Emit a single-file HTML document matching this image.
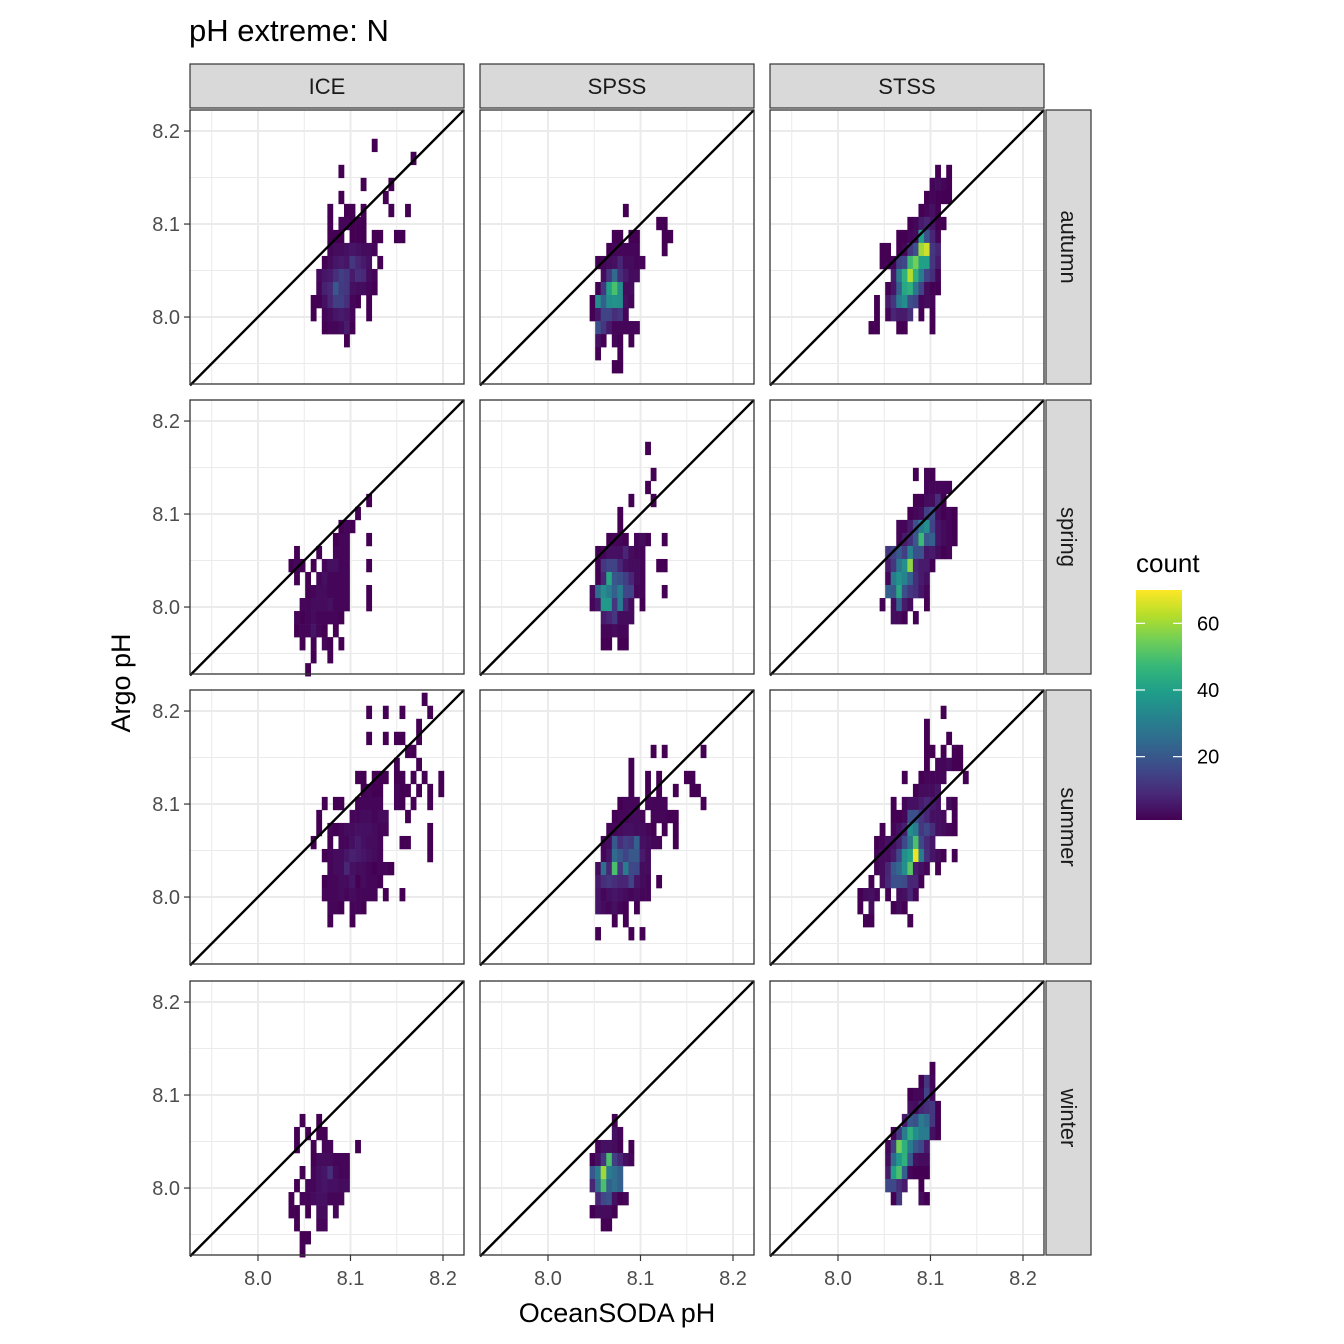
<!DOCTYPE html>
<html><head><meta charset="utf-8"><style>
html,body{margin:0;padding:0;background:#fff;}
svg{display:block;font-family:"Liberation Sans",Arial,sans-serif;}
</style></head><body>
<svg id="chart" width="1344" height="1344" viewBox="0 0 1344 1344" xmlns="http://www.w3.org/2000/svg">
<rect width="1344" height="1344" fill="#fff"/>
<text x="189" y="41" font-size="31" fill="#000">pH extreme: N</text>
<g id="panels"></g>
<text x="617" y="1322" font-size="27" text-anchor="middle" fill="#000">OceanSODA pH</text>
<text transform="translate(130,683) rotate(-90)" font-size="27" text-anchor="middle" fill="#000">Argo pH</text>
<g>
<text x="1136" y="572" font-size="26" fill="#000">count</text>
<defs><linearGradient id="vg" x1="0" y1="1" x2="0" y2="0">
<stop offset="0" stop-color="#440154"/><stop offset="0.111" stop-color="#482878"/><stop offset="0.222" stop-color="#3e4989"/><stop offset="0.333" stop-color="#31688e"/><stop offset="0.444" stop-color="#26828e"/><stop offset="0.556" stop-color="#1f9e89"/><stop offset="0.667" stop-color="#35b779"/><stop offset="0.778" stop-color="#6ece58"/><stop offset="0.889" stop-color="#b5de2b"/><stop offset="1" stop-color="#fde725"/></linearGradient></defs>
<rect x="1136" y="590" width="46" height="230" fill="url(#vg)"/>
<g id="legendticks"></g>
</g>
</svg>
<script>
const cols = ["ICE","SPSS","STSS"];
const rows = ["autumn","spring","summer","winter"];
const xTicks = [8.0, 8.1, 8.2];
const yTicks = [8.0, 8.1, 8.2];
const xTickLabels = ["8.0","8.1","8.2"];
const yTickLabels = ["8.0","8.1","8.2"];
const legendTicks = [20, 40, 60];
const binX0 = 7.931, binW = 0.006, binY0 = 7.9117, binH = 0.014;
const countMin = 1, countMax = 70;
// each row: [yBinIndex, firstXBinIndex, counts...]
const ICE_autumn = [[19,32,1],[18,39,1],[17,26,1],[16,30,1,0,0,0,0,1],[15,26,1,0,0,0,0,0,0,0,1],[14,24,1,0,0,1,1,0,1,0,0,0,0,1,0,0,1],[13,24,1,0,2,2,1,1,1],[12,24,1,1,1,0,1,1,1,0,1,1,0,0,1,1],[11,24,2,3,3,4,5,4,3,3,2],[10,23,1,3,5,6,5,12,8,6,4,0,1],[9,22,3,5,6,10,14,12,6,10,9,3,2],[8,22,2,7,9,20,13,12,4,3,3,2,1],[7,21,1,1,4,8,14,14,10,2,1,0,1],[6,21,1,0,2,3,5,6,5,2,0,0,1],[5,23,1,2,2,3,6,1],[4,27,1]];
const ICE_spring = [[14,31,1],[13,29,1],[12,26,1,2,1],[11,25,1,2,2,0,0,0,1],[10,18,1,0,0,0,1,0,0,2,2,2],[9,17,1,2,1,0,1,0,2,4,4,2,2,0,0,0,1],[8,18,1,0,1,0,2,4,2,2,2,2],[7,20,1,2,3,3,2,2,2,2,0,0,0,1],[6,19,2,2,3,3,3,4,2,2,2,0,0,0,1],[5,18,2,1,2,3,2,2,2,2,1],[4,18,1,2,2,5,2,1,0,1],[3,19,1,0,1,0,2,1,0,1],[2,21,1,0,0,1],[1,20,1]];
const ICE_summer = [[21,41,1],[20,31,1,0,0,1,0,0,1,0,0,0,0,1],[19,40,1],[18,31,1,0,0,1,0,1,1,0,0,1],[17,38,1,1],[16,36,1,0,0,0,1],[15,29,1,1,0,1,1,1,0,1,1,0,1,0,1,0,0,1],[14,30,1,2,1,1,0,0,2,1,1,0,1,0,1,0,1],[13,23,1,0,1,1,0,0,1,2,2,2,2,0,0,2,1,0,1,0,0,1],[12,22,1,0,0,0,0,0,2,2,3,3,2,3,3,0,0,0,1],[11,22,1,0,2,1,2,3,3,4,4,4,3,2,2,0,0,0,0,0,0,0,1],[10,21,1,0,0,1,0,2,2,4,6,4,3,3,2,0,0,0,1,1,0,0,0,1],[9,23,1,2,3,3,5,7,6,5,4,3,2,0,0,0,0,0,0,0,0,1],[8,24,2,3,3,8,4,3,3,2,1,2,2,1],[7,23,1,2,2,3,3,5,1,3,2,2,1],[6,23,2,2,2,3,2,3,2,2,2,2,0,1,0,0,1],[5,24,2,2,1,0,2,2,1],[4,24,1,0,0,0,1]];
const ICE_winter = [[11,19,1,0,0,1],[10,18,1,0,1,0,1,1],[9,18,1,0,0,1,0,2,2,0,0,0,0,1],[8,21,1,3,3,3,2,2,2],[7,19,1,0,2,4,5,10,3,2,2],[6,18,1,0,2,2,4,5,4,4,3,3],[5,17,1,0,2,2,3,4,4,2,2,2],[4,17,1,1,0,1,0,3,3,0,2],[3,18,1,0,0,0,2,2],[2,19,1,1],[1,19,1]];
const SPSS_autumn = [[14,25,1],[13,31,1,1],[12,23,1,1,0,1,1,0,0,0,0,1,1],[11,22,1,2,2,2,2,2,0,0,0,0,1],[10,20,1,2,3,4,8,3,3,2,2],[9,21,3,12,25,10,6,3,3],[8,20,1,12,40,50,35,3,3],[7,19,1,35,22,35,36,35,4,2],[6,19,1,5,15,15,10,12,2],[5,20,18,12,6,2,2,2,2,2],[4,20,4,1,0,2,1,0,1],[3,20,1,0,0,0,1],[2,23,1,1]];
const SPSS_spring = [[18,29,1],[16,30,1],[15,29,1],[14,26,1,0,0,0,1],[13,24,1],[12,24,1],[11,22,1,2,2,1,0,2,3,1,0,0,1],[10,20,1,2,4,4,4,8,3,2,2],[9,20,1,12,15,15,8,4,3,3,2,0,0,1,1],[8,20,1,8,42,20,18,14,8,3,2],[7,19,3,25,35,30,22,30,16,15,2,2,0,0,0,1],[6,19,2,5,38,38,12,30,8,3,0,1],[5,21,6,8,12,3,3,3],[4,21,2,2,3,2,2],[3,21,1,1,0,1,1]];
const SPSS_summer = [[17,30,1,0,1,0,0,0,0,0,0,1],[16,26,1],[15,26,1,0,0,1,0,1,0,0,0,0,1,1],[14,26,1,0,0,1,0,1,0,0,1,0,0,1,1],[13,24,1,2,2,2,0,2,2,2,2,0,0,0,0,0,0,1],[12,23,1,2,2,3,3,2,0,2,2,2,1,1],[11,22,2,2,3,4,4,3,3,2,1,0,1,0,1],[10,21,2,3,20,10,14,12,22,4,3,2,2,0,0,1],[9,21,2,5,25,20,15,20,20,6,3],[8,20,3,26,8,50,12,30,16,16,3,3],[7,20,6,10,12,10,8,8,15,5,3,2,0,1],[6,20,5,2,4,5,4,3,2,3,2,2],[5,20,5,3,2,4,2,1,0,1],[4,23,1,0,1],[3,20,1,0,0,0,0,0,1,0,1]];
const SPSS_winter = [[11,23,1],[10,23,4,2],[9,20,2,4,4,3,1,0,1],[8,19,1,4,12,50,14,8,4,2],[7,19,20,30,60,30,26,22],[6,19,8,25,50,22,26,22],[5,20,8,16,18,4,1,2],[4,19,1,3,3,3,1],[3,21,1,1]];
const STSS_autumn = [[17,29,1,0,1],[16,28,2,3,2,1],[15,27,1,2,1,1,1],[14,26,1,2,4,1],[13,24,1,2,6,8,5,1,1],[12,22,1,1,2,3,40,18,8,2],[11,19,1,1,0,1,2,12,18,60,65,12,8],[10,19,1,1,2,14,16,48,55,40,40,12,6],[9,21,6,30,45,62,45,30,15,10,2],[8,20,1,5,22,42,45,28,15,3,1,1],[7,18,1,0,6,12,30,35,18,15,2,3,2],[6,18,1,0,2,8,6,6,10,0,1,0,1],[5,17,1,1,0,0,0,1,1,0,0,0,0,1]];
const STSS_spring = [[16,25,1,0,2,1],[15,27,2,2,2,2,2],[14,25,1,1,3,3,10,1],[13,24,1,2,3,14,18,3,1,2,1],[12,22,2,2,6,18,30,35,15,5,3,2,1],[11,22,2,6,10,20,48,20,22,5,3,2,1],[10,20,12,15,20,14,32,18,18,5,6,3,1,2],[9,20,6,12,28,35,58,8,6,6,1],[8,20,2,30,36,32,22,10,6,4],[7,20,22,20,42,18,12,10,5,2],[6,19,1,0,3,22,6,3,0,0,1],[5,21,3,3,1,0,1]];
const STSS_summer = [[20,30,1],[19,27,1],[18,27,1,0,0,0,1],[17,27,1,1,0,1,0,1,1],[16,27,1,0,2,2,3,1,1],[15,23,1,0,0,1,2,2,2,2,0,0,0,1],[14,25,1,3,3,3,5],[13,21,1,0,2,4,4,6,8,6,4,0,3,1],[12,21,1,1,2,18,18,12,8,4,4,3,0,1],[11,19,1,0,2,4,7,35,30,12,16,10,4,3,2,1],[10,18,1,2,4,4,7,16,28,50,16,9,5],[9,18,2,3,3,6,16,35,40,68,30,10,5,3,1,0,1],[8,18,2,3,8,20,24,35,52,6,4,2,0,1],[7,17,1,0,3,9,18,18,17,8,8,1],[6,15,1,3,4,2,0,1,0,3,4,8,2],[5,15,1,0,3,0,0,0,1,3,1],[4,16,1,1,0,0,0,0,0,0,1]];
const STSS_winter = [[15,28,1],[14,26,1,12,2],[13,24,1,2,2,15,3],[12,24,4,3,8,10,12,1],[11,23,6,20,18,30,25,12,1],[10,21,2,12,30,45,35,30,30,4,1],[9,20,2,14,55,45,30,20,16,6],[8,20,3,25,38,45,20,4,3,3],[7,20,6,40,50,22,2,1,1,1],[6,20,16,16,10,6,0,0,1],[5,21,1,12,0,0,0,3,1]];

const panelData = {
  ICE: [ICE_autumn, ICE_spring, ICE_summer, ICE_winter],
  SPSS: [SPSS_autumn, SPSS_spring, SPSS_summer, SPSS_winter],
  STSS: [STSS_autumn, STSS_spring, STSS_summer, STSS_winter]
};

const NS = "http://www.w3.org/2000/svg";
const colLeft = [190, 480, 770], panelW = 274;
const rowTop = [110, 400, 690, 981], panelH = 274;
const xMin = 7.9265, xMax = xMin + panelW/925;
const yMin = 7.928, yMax = yMin + panelH/930;
function sx(c, v){ return colLeft[c] + (v - xMin) / (xMax - xMin) * panelW; }
function sy(r, v){ return rowTop[r] + panelH - (v - yMin) / (yMax - yMin) * panelH; }
const vir = ["#440154","#482878","#3e4989","#31688e","#26828e","#1f9e89","#35b779","#6ece58","#b5de2b","#fde725"];
function hex(h){ return [1,3,5].map(k=>parseInt(h.substr(k,2),16)); }
function viridis(v){
  let t = Math.max(0, Math.min(1, (v - countMin) / (countMax - countMin)));
  let p = t * (vir.length - 1), k = Math.min(vir.length - 2, Math.floor(p)), f = p - k;
  const a = hex(vir[k]), b = hex(vir[k+1]);
  return "rgb(" + a.map((x,i)=>Math.round(x + (b[i]-x)*f)).join(",") + ")";
}
function mk(tag, attrs, parent){
  const el = document.createElementNS(NS, tag);
  for (const k in attrs) el.setAttribute(k, attrs[k]);
  parent.appendChild(el);
  return el;
}
const root = document.getElementById("panels");
const minorX = [7.95, 8.05, 8.15], minorY = [7.95, 8.05, 8.15];

cols.forEach((cn, c) => {
  const st = mk("rect", {x: colLeft[c], y: 64, width: panelW, height: 44, fill: "#d9d9d9", stroke: "#333", "stroke-width": 1.2}, root);
  
  
  const stt = mk("text", {x: colLeft[c] + panelW/2, y: 94, "font-size": 22, "text-anchor": "middle", fill: "#1a1a1a"}, root);
  stt.textContent = cn;
  
  
  rows.forEach((rn, r) => {
    const g = mk("g", {}, root);
    
    
    const L = colLeft[c], T = rowTop[r];
    mk("rect", {x: L, y: T, width: panelW, height: panelH, fill: "#fff"}, g);
    minorX.forEach(v => mk("line", {x1: sx(c,v), x2: sx(c,v), y1: T, y2: T+panelH, stroke: "#ebebeb", "stroke-width": 1}, g));
    minorY.forEach(v => mk("line", {x1: L, x2: L+panelW, y1: sy(r,v), y2: sy(r,v), stroke: "#ebebeb", "stroke-width": 1}, g));
    xTicks.forEach(v => mk("line", {x1: sx(c,v), x2: sx(c,v), y1: T, y2: T+panelH, stroke: "#ebebeb", "stroke-width": 2}, g));
    yTicks.forEach(v => mk("line", {x1: L, x2: L+panelW, y1: sy(r,v), y2: sy(r,v), stroke: "#ebebeb", "stroke-width": 2}, g));
    const data = panelData[cn][r];
    data.forEach(row => {
      const J = row[0], i0 = row[1];
      for (let k = 2; k < row.length; k++) {
        const n = row[k];
        if (!n) continue;
        const xv = binX0 + (i0 + k - 2) * binW, yv = binY0 + J * binH;
        const x1 = sx(c, xv), x2 = sx(c, xv + binW);
        const y1 = sy(r, yv + binH), y2 = sy(r, yv);
        const cell = mk("rect", {x: x1, y: y1, width: x2 - x1 + 0.3, height: y2 - y1 + 0.3, fill: viridis(n)}, g);
        
        
      }
    });
    const dl = mk("line", {x1: L, y1: sy(r, xMin), x2: L + panelW, y2: sy(r, xMax), stroke: "#000", "stroke-width": 2.4}, g);
    
    
    mk("rect", {x: L, y: T, width: panelW, height: panelH, fill: "none", stroke: "#333", "stroke-width": 1.3}, g);
    if (c === 0) {
      yTicks.forEach((v, k) => {
        mk("line", {x1: L-6, x2: L, y1: sy(r,v), y2: sy(r,v), stroke: "#333", "stroke-width": 1.2}, g);
        const t = mk("text", {x: L-10, y: sy(r,v)+7, "font-size": 20, "text-anchor": "end", fill: "#4d4d4d"}, g);
        t.textContent = yTickLabels[k];
        
        
      });
    }
    if (r === 3) {
      xTicks.forEach((v, k) => {
        mk("line", {x1: sx(c,v), x2: sx(c,v), y1: T+panelH, y2: T+panelH+6, stroke: "#333", "stroke-width": 1.2}, g);
        const t = mk("text", {x: sx(c,v), y: T+panelH+30, "font-size": 20, "text-anchor": "middle", fill: "#4d4d4d"}, g);
        t.textContent = xTickLabels[k];
        
        
      });
    }
    if (c === 2) {
      const rs = mk("rect", {x: 1046, y: T, width: 45, height: panelH, fill: "#d9d9d9", stroke: "#333", "stroke-width": 1.2}, root);
      
      
      const rt = mk("text", {transform: "translate(1061," + (T + panelH/2) + ") rotate(90)", "font-size": 22, "text-anchor": "middle", fill: "#1a1a1a"}, root);
      rt.textContent = rn;
      
      
    }
  });
});
const lg = document.getElementById("legendticks");
function ly(v){ return 820 - (v - countMin) / (countMax - countMin) * 230; }
legendTicks.forEach(v => {
  mk("line", {x1: 1136, x2: 1145, y1: ly(v), y2: ly(v), stroke: "#fff", "stroke-width": 1.2}, lg);
  mk("line", {x1: 1173, x2: 1182, y1: ly(v), y2: ly(v), stroke: "#fff", "stroke-width": 1.2}, lg);
  const t = mk("text", {x: 1197, y: ly(v) + 7, "font-size": 20, fill: "#000"}, lg);
  t.textContent = String(v);
  
  
});
</script>
</body></html>
